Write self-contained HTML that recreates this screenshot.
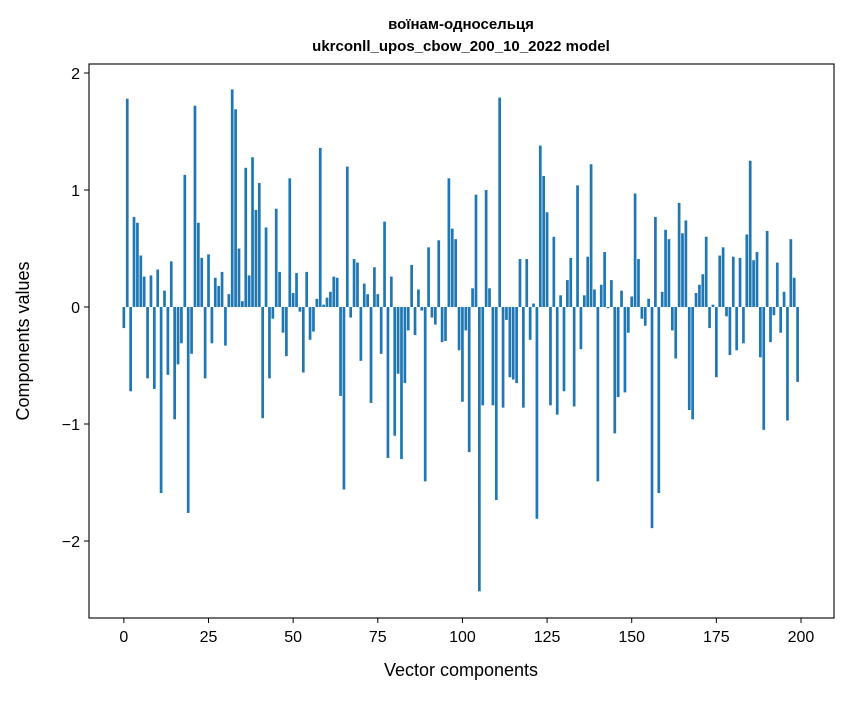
<!DOCTYPE html>
<html><head><meta charset="utf-8"><style>
body{margin:0;background:#fff}
text{font-family:"Liberation Sans","DejaVu Sans",sans-serif}
</style></head><body>
<svg id="chart" width="847" height="696" xmlns="http://www.w3.org/2000/svg">
<rect width="847" height="696" fill="#fff"/>
<text x="461" y="29" text-anchor="middle" font-size="15" font-weight="bold">воїнам-односельця</text>
<text x="461" y="51" text-anchor="middle" font-size="15" font-weight="bold">ukrconll_upos_cbow_200_10_2022 model</text>
<g id="bars"></g>
<g id="axes"></g>
<text x="461" y="676" text-anchor="middle" font-size="18">Vector components</text>
<text transform="translate(29,341) rotate(-90)" text-anchor="middle" font-size="18">Components values</text>
</svg>
<script>
const values=[-0.18,1.78,-0.72,0.77,0.72,0.44,0.26,-0.61,0.27,-0.70,0.32,-1.59,0.14,-0.58,0.39,-0.96,-0.49,-0.31,1.13,-1.76,
-0.40,1.72,0.72,0.42,-0.61,0.45,-0.31,0.25,0.18,0.30,-0.33,0.11,1.86,1.69,0.50,0.05,1.19,0.27,1.28,0.83,
1.06,-0.95,0.68,-0.61,-0.10,0.84,0.30,-0.22,-0.42,1.10,0.12,0.29,-0.04,-0.56,0.30,-0.28,-0.21,0.07,1.36,0.02,
0.08,0.13,0.26,0.25,-0.76,-1.56,1.20,-0.09,0.41,0.38,-0.46,0.20,0.11,-0.82,0.34,0.11,-0.40,0.73,-1.29,0.26,
-1.10,-0.57,-1.30,-0.65,-0.20,0.36,-0.24,0.15,-0.03,-1.49,0.51,-0.09,-0.15,0.57,-0.30,-0.29,1.10,0.67,0.58,-0.37,
-0.81,-0.20,-1.24,0.16,0.96,-2.43,-0.84,1.00,0.16,-0.84,-1.65,1.79,-0.86,-0.11,-0.60,-0.62,-0.65,0.41,-0.86,0.41,
-0.28,0.03,-1.81,1.38,1.12,0.81,-0.84,0.60,-0.92,0.10,-0.72,0.23,0.42,-0.85,1.04,-0.36,0.10,0.43,1.22,0.15,
-1.49,0.19,0.47,-0.01,0.23,-1.08,-0.77,0.14,-0.73,-0.22,0.09,0.97,0.41,-0.10,-0.16,0.07,-1.89,0.77,-1.59,0.13,
0.66,0.58,-0.20,-0.44,0.89,0.63,0.74,-0.88,-0.96,0.12,0.19,0.28,0.60,-0.18,0.02,-0.60,0.44,0.51,-0.08,-0.41,
0.43,-0.37,0.42,-0.31,0.62,1.25,0.40,0.47,-0.43,-1.05,0.65,-0.30,-0.07,0.38,-0.22,0.13,-0.97,0.58,0.25,-0.64];
const xTicks=[0,25,50,75,100,125,150,175,200];
const yTicks=[-2,-1,0,1,2];
const yTickLabels=["\u22122","\u22121","0","1","2"];
const L=89,R=834,T=64,B=618;
const xmin=-10.3,xmax=209.75,ymin=-2.658,ymax=2.077;
const sx=v=>L+(v-xmin)/(xmax-xmin)*(R-L);
const sy=v=>B-(v-ymin)/(ymax-ymin)*(B-T);
const NS="http://www.w3.org/2000/svg";
const bars=document.getElementById('bars');
values.forEach((v,i)=>{
 const r=document.createElementNS(NS,'rect');
 const x0=sx(i-0.4),x1=sx(i+0.4);
 r.setAttribute('x',x0);r.setAttribute('width',x1-x0);
 r.setAttribute('y',Math.min(sy(v),sy(0)));r.setAttribute('height',Math.abs(sy(v)-sy(0)));
 r.setAttribute('fill','#1f77b4');
 
 
 bars.appendChild(r);
});
const ax=document.getElementById('axes');
const fr=document.createElementNS(NS,'rect');
fr.setAttribute('x',L);fr.setAttribute('y',T);fr.setAttribute('width',R-L);fr.setAttribute('height',B-T);
fr.setAttribute('fill','none');fr.setAttribute('stroke','#000');fr.setAttribute('stroke-width','1.1');


ax.appendChild(fr);
xTicks.forEach(t=>{
 const l=document.createElementNS(NS,'line');
 l.setAttribute('x1',sx(t));l.setAttribute('x2',sx(t));l.setAttribute('y1',B);l.setAttribute('y2',B+5);l.setAttribute('stroke','#000');
 
 
 ax.appendChild(l);
 const tx=document.createElementNS(NS,'text');
 tx.setAttribute('x',sx(t));tx.setAttribute('y',B+24);tx.setAttribute('text-anchor','middle');tx.setAttribute('font-size','16');
 tx.textContent=t;
 
 
 ax.appendChild(tx);
});
yTicks.forEach((t,i)=>{
 const l=document.createElementNS(NS,'line');
 l.setAttribute('x1',L-5);l.setAttribute('x2',L);l.setAttribute('y1',sy(t));l.setAttribute('y2',sy(t));l.setAttribute('stroke','#000');
 
 
 ax.appendChild(l);
 const tx=document.createElementNS(NS,'text');
 tx.setAttribute('x',L-9);tx.setAttribute('y',sy(t)+6);tx.setAttribute('text-anchor','end');tx.setAttribute('font-size','16');
 tx.textContent=yTickLabels[i];
 
 
 ax.appendChild(tx);
});
</script>
</body></html>
